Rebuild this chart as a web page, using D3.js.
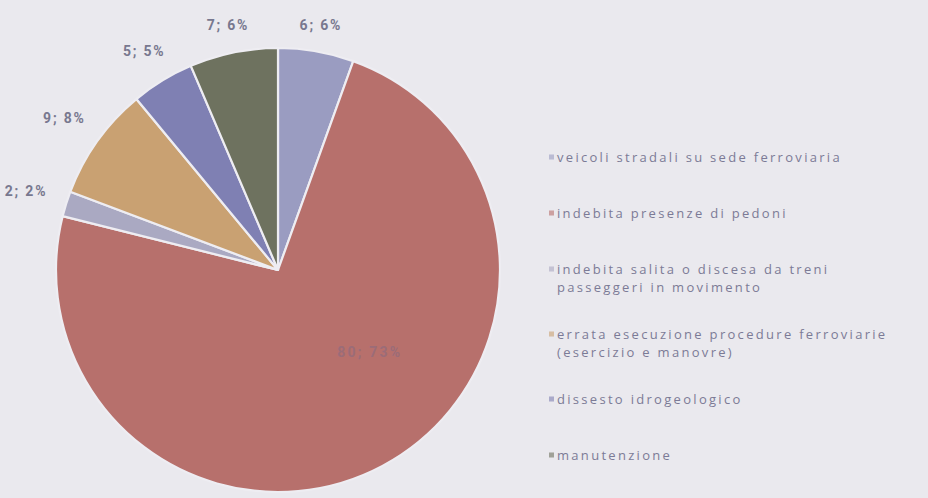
<!DOCTYPE html>
<html><head><meta charset="utf-8">
<script src="https://cdn.jsdelivr.net/npm/d3@7"></script>
<style>
html,body{margin:0;padding:0;background:#eae9ee;}
svg{display:block;}
</style></head>
<body>
<svg id="chart" width="928" height="498"></svg>
<script>
const categories = [
  "veicoli stradali su sede ferroviaria",
  "indebita presenze di pedoni",
  "indebita salita o discesa da treni passeggeri in movimento",
  "errata esecuzione procedure ferroviarie (esercizio e manovre)",
  "dissesto idrogeologico",
  "manutenzione"
];
const legendLines = [
  ["veicoli stradali su sede ferroviaria"],
  ["indebita presenze di pedoni"],
  ["indebita salita o discesa da treni", "passeggeri in movimento"],
  ["errata esecuzione procedure ferroviarie", "(esercizio e manovre)"],
  ["dissesto idrogeologico"],
  ["manutenzione"]
];
const values = [6, 80, 2, 9, 5, 7];
const percentLabels = ["6%", "73%", "2%", "8%", "5%", "6%"];
const colors = ["#9a9cc1", "#b7706c", "#aaa9c2", "#c9a172", "#7f80b3", "#6e725f"];

const svg = d3.select("#chart");
const cx = 278, cy = 270, r = 222;
const total = d3.sum(values);

const g = svg.append("g").attr("transform", `translate(${cx},${cy})`);
const pie = d3.pie().sort(null).value(d => d)(values);
const arc = d3.arc().innerRadius(0).outerRadius(r);

g.selectAll("path.slice").data(pie).join("path")
  .attr("class", "slice")
  .attr("d", arc)
  .attr("fill", (d, i) => colors[i])
  .attr("stroke", "#eeedf2")
  .attr("stroke-width", 2.2)
  .attr("stroke-linejoin", "round");

// data labels
pie.forEach((d, i) => {
  const a = (d.startAngle + d.endAngle) / 2;
  const big = values[i] / total > 0.3;
  const txt = `${values[i]}; ${percentLabels[i]}`;
  let x, y;
  if (big) {
    const ang = a - 0.35;
    const rr = r * 0.555;
    x = rr * Math.sin(ang);
    y = -rr * Math.cos(ang);
  } else {
    const w = 50, h = 14;
    const proj = Math.abs(Math.sin(a)) * w / 2 + Math.abs(Math.cos(a)) * h / 2;
    const R = r + 16 + proj;
    x = R * Math.sin(a);
    y = -R * Math.cos(a);
  }
  g.append("text")
    .attr("x", x).attr("y", y)
    .attr("text-anchor", "middle")
    .attr("dominant-baseline", "central")
    .attr("font-family", "'Liberation Sans Narrow','Roboto','DejaVu Sans Condensed',sans-serif")
    .attr("font-weight", "bold")
    .attr("font-size", 14)
    .attr("letter-spacing", big ? 2.2 : 1.8)
    .attr("fill", big ? "#9b6c78" : "#78788f")
    .text(txt);
});

// legend
const lg = svg.append("g");
const gap = 56, lineH = 18, extra = 9;
let yCur = 157;
categories.forEach((c, i) => {
  const y0 = yCur;
  lg.append("rect")
    .attr("x", 549).attr("y", y0 - 2.5)
    .attr("width", 5).attr("height", 5)
    .attr("fill", colors[i]).attr("opacity", 0.6);
  legendLines[i].forEach((ln, j) => {
    lg.append("text")
      .attr("x", 557).attr("y", y0 + j * lineH)
      .attr("dominant-baseline", "central")
      .attr("font-family", "'Open Sans','DejaVu Sans',sans-serif")
      .attr("font-size", 13)
      .attr("letter-spacing", 2.3)
      .attr("fill", "#7c7b96")
      .text(ln);
  });
  yCur += gap + (legendLines[i].length - 1) * extra;
});
</script>
</body></html>
